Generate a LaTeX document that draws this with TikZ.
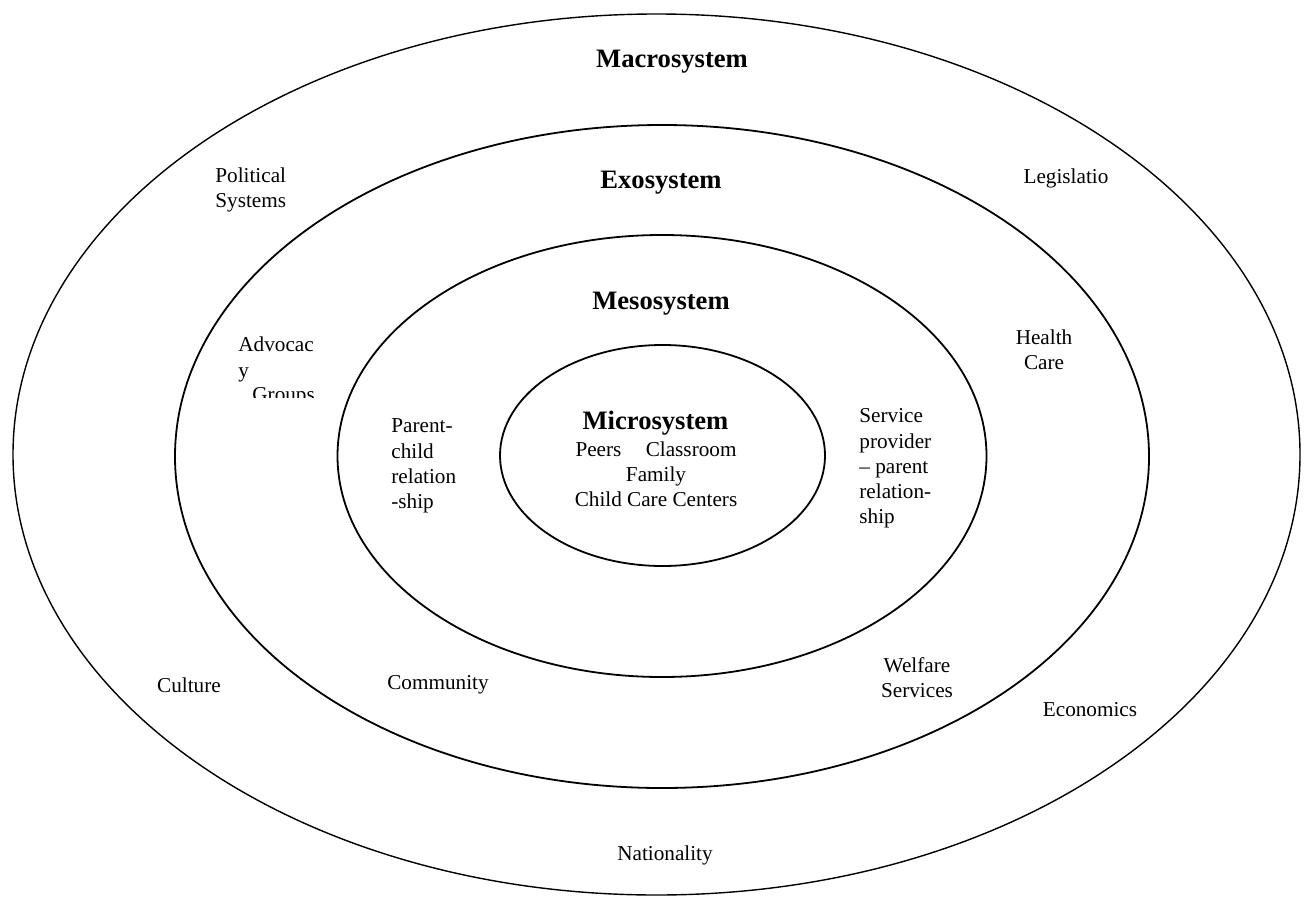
\documentclass[tikz,border=0pt]{standalone}
\usepackage{fontspec}
\setmainfont{Liberation Serif}
\usepackage{tikz}

\begin{document}
\begin{tikzpicture}[x=0.5pt,y=0.5pt,
  ring/.style={black,line width=0.9pt},
  lbl/.style={font=\fontsize{10.6}{12.6}\selectfont,inner sep=0pt},
  ttl/.style={font=\fontsize{13.3}{15}\selectfont\bfseries,inner sep=0pt}]
\useasboundingbox (0,0) rectangle (1304,896);

% the four systems
\draw[black,line width=0.7pt] (656.5,441.5) ellipse (643.5 and 440.5);
\draw[ring] (662,439.5) ellipse (487 and 331.5);
\draw[ring] (662,440) ellipse (324.5 and 221);
\draw[ring] (662.5,440.5) ellipse (162.5 and 110.5);

\node[ttl] (macrotitle) at (672,834) {Macrosystem};
\node[ttl] (exotitle) at (661,713) {Exosystem};
\node[ttl] (mesotitle) at (661,592) {Mesosystem};
\node[ttl] (microtitle) at (655.5,473) {Microsystem};
\node[lbl,align=center] (microitems) at (656,421.5) {Peers\hspace{0.9em} Classroom\\Family\\Child Care Centers};

% macrosystem
\node[lbl,align=left,anchor=west] (political) at (215,706) {Political\\Systems};
\node[lbl] (legislatio) at (1066,718) {Legislatio};
\node[lbl] (culture) at (189,211) {Culture};
\node[lbl] (economics) at (1090,186) {Economics};
\node[lbl] (nationality) at (665,41) {Nationality};

% exosystem
\node[lbl,align=left,anchor=west] (advocacy) at (238,536.5) {Advocac\\y};
\begin{scope}
\clip (200,499) rectangle (340,520);
\node[lbl,anchor=west] (groups) at (252,499.5) {Groups};
\end{scope}
\node[lbl,align=center] (health) at (1044,546) {Health\\Care};
\node[lbl] (community) at (438,211) {Community};
\node[lbl,align=center] (welfare) at (917,218.5) {Welfare\\Services};

% mesosystem
\node[lbl,align=left,anchor=west] (parentchild) at (391,430) {Parent-\\child\\relation\\-ship};
\node[lbl,align=left,anchor=west] (provider) at (859,427.5) {Service\\provider\\\textendash{} parent\\relation-\\ship};

\end{tikzpicture}
\end{document}
